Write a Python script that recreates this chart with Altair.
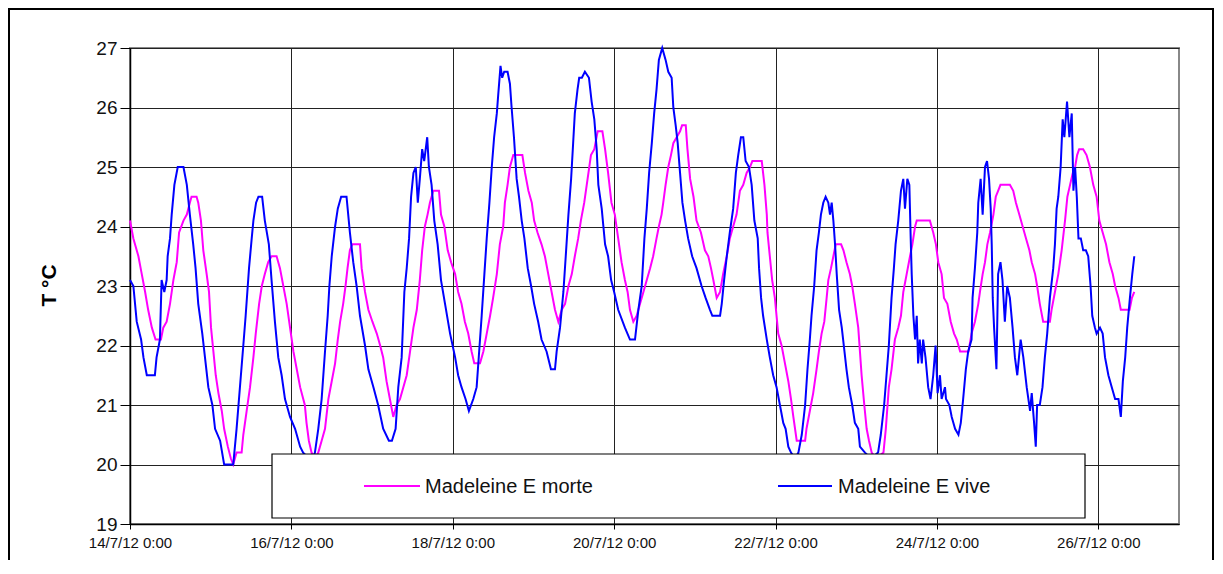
import altair as alt
import pandas as pd

# Series names
series_names = ["Madeleine E morte", "Madeleine E vive"]
series_colors = ["#FF00FF", "#0000FF"]

# Time in hours after 14/7/12 0:00, temperature in °C
vive_h = [0, 1.0, 2.0, 3.3, 4.0, 5.0, 7.4, 7.9, 8.9, 9.4, 10.2, 10.9, 11.2, 11.9, 12.4, 13.2, 14.2, 15.9,
          16.9, 17.8, 18.8, 19.5, 20.3, 21.5, 22.3, 23.3, 24.5, 25.3, 26.8, 28.0, 30.7, 31.7, 32.7, 33.7,
          34.4, 35.4, 36.2, 36.7, 37.5, 38.2, 39.3, 40.1, 41.3, 42.1, 43.1, 44.1, 45.1, 46.1, 47.6, 49.1,
          50.6, 51.5, 53.2, 54.4, 55.0, 56.0, 57.0, 58.0, 58.8, 59.3, 60.0, 61.0, 61.8, 62.8, 64.4, 65.4,
          66.4, 67.4, 68.4, 69.9, 70.9, 72.4, 73.8, 75.3, 77.0, 77.9, 79.0, 79.8, 80.8, 81.6, 82.3, 83.0,
          83.6, 84.3, 85.0, 85.6, 86.2, 86.9, 87.5, 88.4, 88.9, 89.7, 90.5, 91.5, 92.5, 93.7, 95.2, 96.7,
          97.6, 98.6, 99.8, 100.8, 102.1, 103.1, 103.6, 104.6, 105.4, 106.1, 106.9, 107.6, 108.3, 109.1,
          109.5, 110.2, 110.7, 111.3, 112.3, 113.0, 113.5, 114.2, 115.0, 115.7, 116.5, 117.3, 118.3, 119.3,
          120.2, 121.4, 122.4, 123.9, 125.2, 126.4, 126.9, 127.9, 128.9, 129.6, 130.4, 131.2, 131.8, 132.3,
          133.1, 133.6, 134.4, 135.3, 136.5, 137.3, 138.1, 138.8, 139.3, 140.3, 140.8, 141.3, 142.2, 143.1,
          144.0, 145.2, 147.2, 148.7, 150.2, 151.2, 152.2, 153.0, 153.7, 154.4, 155.2, 155.9, 156.6, 157.3,
          158.3, 159.3, 160.1, 161.1, 161.6, 162.3, 162.9, 163.6, 164.3, 165.1, 166.0, 167.2, 168.5, 170.0,
          171.2, 172.5, 173.2, 175.5, 176.0, 176.7, 177.5, 178.4, 179.4, 180.2, 180.9, 181.7, 182.4, 183.1,
          184.1, 184.9, 185.7, 186.7, 187.1, 187.7, 188.3, 189.4, 190.3, 191.3, 192.3, 193.3, 194.3, 195.0,
          195.8, 196.6, 197.8, 198.8, 199.8, 200.8, 201.5, 202.2, 202.7, 203.5, 204.2, 204.9, 205.5, 206.2,
          206.9, 207.7, 208.2, 208.7, 209.2, 209.7, 210.2, 210.9, 211.7, 212.5, 213.1, 213.8, 214.8, 215.6,
          216.6, 217.1, 218.6, 220.4, 222.5, 223.3, 224.3, 225.0, 225.7, 226.5, 227.2, 227.7, 228.5, 229.3,
          230.0, 230.5, 231.2, 231.8, 232.2, 232.5, 233.0, 233.5, 234.0, 234.4, 234.9, 235.5, 235.9, 236.6,
          237.4, 238.1, 238.9, 239.6, 240.2, 240.9, 241.4, 242.4, 242.7, 243.7, 244.4, 245.4, 246.4, 247.1,
          247.8, 248.6, 249.3, 250.3, 250.6, 251.3, 252.0, 252.3, 253.0, 253.6, 254.3, 254.9, 255.5, 256.0,
          256.3, 256.6, 257.0, 257.7, 258.2, 258.9, 259.5, 260.2, 260.9, 261.7, 262.5, 263.2, 263.9, 264.4,
          264.9, 265.7, 266.7, 267.7, 268.2, 268.9, 269.4, 269.8, 270.6, 271.4, 272.1, 272.8, 273.6, 274.6,
          275.1, 275.6, 276.1, 276.8, 277.4, 277.9, 278.7, 279.4, 280.1, 280.6, 281.1, 281.6, 282.1, 282.8,
          283.5, 284.3, 285.0, 285.7, 286.2, 287.0, 287.5, 288.5, 289.3, 290.0, 291.0, 292.0, 293.0, 294.0,
          294.7, 295.3, 296.0, 296.6, 297.4, 298.1, 298.7]
vive_t = [23.1, 23.0, 22.4, 22.1, 21.8, 21.5, 21.5, 21.8, 22.1, 23.1, 22.9, 23.1, 23.5, 23.8, 24.2, 24.7, 25.0, 25.0,
          24.7, 24.2, 23.7, 23.3, 22.7, 22.2, 21.8, 21.3, 21.0, 20.6, 20.4, 20.0, 20.0, 20.6, 21.3, 22.0,
          22.5, 23.3, 23.8, 24.1, 24.4, 24.5, 24.5, 24.1, 23.7, 23.1, 22.4, 21.8, 21.5, 21.1, 20.8, 20.6,
          20.3, 20.2, 20.1, 20.1, 20.2, 20.6, 21.1, 21.9, 22.5, 23.0, 23.5, 24.0, 24.3, 24.5, 24.5, 23.9,
          23.4, 23.0, 22.5, 22.0, 21.6, 21.3, 21.0, 20.6, 20.4, 20.4, 20.6, 21.3, 21.8, 22.9, 23.3, 23.8,
          24.5, 24.9, 25.0, 24.4, 24.8, 25.3, 25.1, 25.5, 25.0, 24.7, 24.1, 23.7, 23.1, 22.7, 22.2, 21.8,
          21.5, 21.3, 21.1, 20.9, 21.1, 21.3, 21.7, 22.5, 23.2, 23.8, 24.4, 25.0, 25.5, 25.9,
          26.2, 26.7, 26.5, 26.6, 26.6, 26.4, 26.0, 25.5, 24.8, 24.5, 24.1, 23.8, 23.3, 23.0,
          22.7, 22.4, 22.1, 21.9, 21.6, 21.6, 21.9, 22.3, 22.9, 23.5, 24.2, 24.8, 25.4, 25.9,
          26.3, 26.5, 26.5, 26.6, 26.5, 26.1, 25.8, 25.3, 24.7, 24.3, 24.0, 23.7, 23.5, 23.1,
          22.9, 22.6, 22.3, 22.1, 22.1, 22.6, 23.0, 23.8, 24.3, 24.9, 25.4, 25.9, 26.3, 26.8,
          27.0, 26.8, 26.6, 26.5, 26.0, 25.7, 25.4, 24.9, 24.4, 24.1, 23.8, 23.5, 23.3, 23.0,
          22.8, 22.6, 22.5, 22.5, 22.7, 23.1, 23.5, 23.9, 24.3, 24.9, 25.2, 25.5, 25.5, 25.1,
          25.0, 24.7, 24.1, 23.8, 23.3, 22.8, 22.5, 22.1, 21.8, 21.5, 21.3, 21.0, 20.7, 20.6,
          20.3, 20.2, 20.1, 20.2, 20.5, 21.0, 21.6, 22.1, 22.5, 23.0, 23.6, 23.9, 24.2, 24.4,
          24.5, 24.4, 24.2, 24.4, 24.1, 23.7, 23.2, 22.6, 22.3, 21.9, 21.6, 21.3, 21.0, 20.7,
          20.6, 20.3, 20.2, 20.1, 20.2, 20.5, 21.0, 21.5, 22.0, 22.8, 23.3, 23.7, 24.1, 24.6,
          24.8, 24.3, 24.8, 24.7, 23.8, 23.2, 22.5, 22.1, 22.5, 21.7, 22.1, 21.7, 22.1, 21.8,
          21.3, 21.1, 21.5, 22.0, 21.2, 21.5, 21.1, 21.3, 21.1, 21.0, 20.8, 20.6, 20.5, 20.7,
          21.1, 21.6, 21.9, 22.1, 22.8, 23.3, 23.9, 24.4, 24.8, 24.2, 25.0, 25.1, 24.8, 24.3,
          23.7, 22.8, 22.3, 21.6, 23.2, 23.4, 23.1, 22.4, 23.0, 22.8, 22.3, 21.8, 21.5, 21.8,
          22.1, 21.8, 21.3, 20.9, 21.2, 20.7, 20.3, 21.0, 21.0, 21.3, 21.8, 22.2, 22.8, 23.3,
          23.7, 24.3, 24.5, 25.0, 25.8, 25.5, 26.1, 25.5, 25.9, 24.6, 25.0, 24.5, 23.8, 23.8,
          23.6, 23.6, 23.5, 23.0, 22.5, 22.3, 22.2, 22.3, 22.2, 21.8, 21.5, 21.3, 21.1, 21.1,
          20.8, 21.4, 21.8, 22.3, 22.8, 23.2, 23.5]

morte_h = [0, 1.0, 2.5, 3.5, 4.5, 5.4, 6.5, 7.6, 9.2, 9.9, 10.9, 11.9, 12.9, 13.9, 14.6, 15.9, 16.9, 17.8,
           18.3, 19.8, 20.3, 21.1, 21.8, 22.8, 23.5, 24.1, 24.8, 25.5, 26.3, 27.3, 28.0, 29.1, 30.0, 30.7,
           31.7, 33.2, 33.7, 34.7, 35.7, 36.7, 37.4, 38.4, 39.2, 40.1, 41.1, 42.1, 43.6, 44.6, 45.6, 46.6,
           47.6, 48.6, 49.6, 50.6, 52.0, 52.5, 53.2, 54.0, 55.0, 56.0, 57.0, 58.0, 59.0, 60.0, 61.0, 61.8,
           62.5, 63.4, 64.1, 64.7, 65.4, 66.1, 68.4, 68.9, 69.9, 70.9, 72.1, 73.4, 74.4, 75.3, 76.3, 77.3,
           78.3, 79.3, 80.3, 81.3, 82.3, 83.3, 84.3, 85.3, 86.2, 86.9, 87.7, 88.5, 89.2, 90.2, 91.9, 92.5,
           93.5, 94.5, 95.5, 96.7, 97.6, 98.6, 99.6, 100.6, 101.6, 102.4, 104.1, 105.1, 106.1, 107.1, 108.0,
           109.1, 110.0, 111.0, 111.5, 112.3, 113.0, 114.0, 116.7, 117.5, 118.5, 119.5, 120.2, 121.2, 122.4,
           123.4, 124.4, 125.4, 126.4, 127.4, 128.4, 129.4, 130.4, 131.4, 132.3, 133.3, 134.1, 135.1, 136.1,
           137.1, 138.1, 139.1, 140.5, 141.3, 142.2, 143.2, 144.2, 145.2, 146.2, 147.2, 148.0, 148.7, 149.7,
           150.7, 151.7, 152.7, 153.7, 154.7, 155.6, 156.6, 157.3, 158.1, 158.6, 159.3, 160.1, 160.9, 161.6,
           162.6, 163.6, 164.2, 165.3, 165.8, 166.6, 167.6, 168.5, 169.8, 171.0, 172.0, 172.8, 173.5, 174.5,
           175.5, 176.4, 177.5, 178.4, 179.4, 180.4, 181.4, 182.4, 183.4, 184.4, 185.1, 187.9, 188.7, 189.4,
           189.6, 190.3, 191.0, 191.8, 192.8, 193.8, 194.8, 195.8, 196.6, 197.3, 198.3, 200.8, 201.2, 202.2,
           203.2, 204.2, 204.9, 205.7, 206.5, 207.2, 207.7, 208.5, 209.2, 209.9, 211.5, 212.2, 213.1, 214.1,
           214.8, 215.6, 216.6, 217.6, 218.4, 219.1, 219.8, 220.6, 221.9, 224.1, 224.8, 225.7, 226.5, 227.5,
           228.5, 229.3, 230.0, 231.0, 232.0, 232.7, 233.5, 234.0, 237.9, 238.9, 239.7, 240.4, 241.4, 242.1,
           243.1, 244.1, 245.1, 245.9, 246.9, 249.4, 250.3, 251.3, 252.3, 252.8, 253.6, 254.3, 255.0, 255.8,
           256.8, 257.5, 258.2, 258.9, 261.7, 262.7, 263.5, 264.5, 265.5, 266.5, 267.5, 268.2, 269.2, 269.8,
           270.6, 271.6, 273.6, 274.1, 275.1, 276.1, 277.1, 278.1, 278.8, 279.6, 280.4, 281.1, 281.7, 282.3,
           283.5, 284.5, 285.5, 286.5, 287.5, 288.3, 289.3, 290.3, 291.3, 292.3, 293.0, 294.0, 294.7, 297.3,
           298.0, 298.7]
morte_t = [24.1, 23.8, 23.5, 23.2, 22.9, 22.6, 22.3, 22.1, 22.1, 22.3, 22.4, 22.7, 23.1, 23.4, 23.9, 24.1, 24.2, 24.4,
           24.5, 24.5, 24.4, 24.1, 23.6, 23.2, 22.9, 22.3, 21.9, 21.5, 21.2, 20.9, 20.6, 20.3, 20.1, 20.0,
           20.2, 20.2, 20.5, 20.9, 21.3, 21.8, 22.2, 22.7, 23.0, 23.2, 23.4, 23.5, 23.5, 23.3, 23.0, 22.7,
           22.3, 21.9, 21.6, 21.3, 21.0, 20.7, 20.4, 20.2, 20.1, 20.2, 20.4, 20.6, 21.1, 21.4, 21.7, 22.1,
           22.4, 22.7, 23.0, 23.3, 23.6, 23.7, 23.7, 23.3, 22.9, 22.6, 22.4, 22.2, 22.0, 21.8, 21.4, 21.1,
           20.8, 21.0, 21.1, 21.3, 21.5, 21.9, 22.3, 22.6, 23.1, 23.6, 24.0, 24.2, 24.4, 24.6, 24.6, 24.2,
           24.0, 23.6, 23.4, 23.2, 22.9, 22.7, 22.4, 22.2, 21.9, 21.7, 21.7, 21.9, 22.2, 22.5, 22.8,
           23.2, 23.7, 24.0, 24.4, 24.7, 25.0, 25.2, 25.2, 24.9, 24.6, 24.4, 24.1, 23.9, 23.7,
           23.5, 23.2, 22.9, 22.6, 22.4, 22.6, 22.7, 23.0, 23.2, 23.5, 23.8, 24.1, 24.4, 24.8,
           25.2, 25.3, 25.6, 25.6, 25.3, 24.9, 24.4, 24.2, 23.8, 23.4, 23.1, 22.9, 22.6, 22.4,
           22.5, 22.7, 22.9, 23.1, 23.3, 23.5, 23.8, 24.0, 24.2, 24.4, 24.7, 25.0, 25.2, 25.4,
           25.5, 25.6, 25.7, 25.7, 25.3, 24.8, 24.5, 24.1, 23.9, 23.6, 23.5, 23.3, 23.1, 22.8,
           22.9, 23.2, 23.5, 23.8, 24.0, 24.2, 24.6, 24.7, 24.9, 25.0, 25.1, 25.1, 24.7, 24.2,
           23.9, 23.5, 23.1, 22.8, 22.2, 22.0, 21.7, 21.4, 21.1, 20.8, 20.4, 20.4, 20.6, 20.9,
           21.2, 21.6, 21.9, 22.2, 22.4, 22.8, 23.1, 23.3, 23.5, 23.7, 23.7, 23.6, 23.4, 23.2,
           23.0, 22.7, 22.3, 21.5, 21.0, 20.6, 20.4, 20.2, 20.1, 20.2, 20.6, 21.3, 21.6, 22.1,
           22.3, 22.5, 22.9, 23.2, 23.5, 23.7, 24.0, 24.1, 24.1, 23.9, 23.7, 23.4, 23.2, 22.8,
           22.7, 22.4, 22.2, 22.1, 21.9, 21.9, 22.2, 22.4, 22.7, 22.9, 23.2, 23.4, 23.7, 23.9,
           24.2, 24.5, 24.6, 24.7, 24.7, 24.6, 24.4, 24.2, 24.0, 23.8, 23.6, 23.4, 23.2, 23.0,
           22.7, 22.4, 22.4, 22.6, 22.9, 23.2, 23.6, 24.1, 24.5, 24.7, 24.9, 25.0, 25.2, 25.3,
           25.3, 25.2, 25.0, 24.7, 24.5, 24.1, 23.9, 23.7, 23.4, 23.2, 23.0, 22.8, 22.6, 22.6,
           22.8, 22.9]

# Axis tick positions (hours) and labels
x_tick_hours = [0, 48, 96, 144, 192, 240, 288]
x_tick_labels = ["14/7/12 0:00", "16/7/12 0:00", "18/7/12 0:00", "20/7/12 0:00",
                 "22/7/12 0:00", "24/7/12 0:00", "26/7/12 0:00"]
y_ticks = [19, 20, 21, 22, 23, 24, 25, 26, 27]

df = pd.concat([
    pd.DataFrame({"h": morte_h, "T": morte_t, "serie": series_names[0]}),
    pd.DataFrame({"h": vive_h, "T": vive_t, "serie": series_names[1]}),
], ignore_index=True)

FONT = "Liberation Sans"
W, H = 1049, 476

label_map = "{" + ",".join(f"'{h}':'{l}'" for h, l in zip(x_tick_hours, x_tick_labels)) + "}"

x_enc = alt.X("h:Q",
              scale=alt.Scale(domain=[0, 312], nice=False, zero=False),
              axis=alt.Axis(values=x_tick_hours, labelExpr=f"{label_map}[toString(datum.value)]",
                            title=None, grid=True, gridColor="#222", gridWidth=1,
                            tickSize=5, tickColor="#000", domainColor="#000", domainWidth=1.5,
                            labelFont=FONT, labelFontSize=15, labelColor="#111",
                            labelPadding=6, labelAngle=0, labelOverlap=False, labelFlush=False,
                            labelBound=False))
y_enc = alt.Y("T:Q",
              scale=alt.Scale(domain=[19, 27], nice=False, zero=False),
              axis=alt.Axis(values=y_ticks, title="T °C", grid=True, gridColor="#222", gridWidth=1,
                            tickSize=10, tickColor="#000", domainColor="#000", domainWidth=1.5,
                            labelFont=FONT, labelFontSize=19, labelColor="#111", labelPadding=3,
                            titleFont=FONT, titleFontSize=21, titleFontWeight="bold", titleColor="#000",
                            titleX=-81, titleY=237, titleAlign="center", titleBaseline="middle",
                            titleAngle=270))

lines = alt.Chart(df).mark_line(strokeWidth=2, interpolate="linear").encode(
    x=x_enc, y=y_enc,
    color=alt.Color("serie:N", scale=alt.Scale(domain=series_names, range=series_colors), legend=None),
)

pink_line = lines.transform_filter(alt.datum.serie == series_names[0])
blue_line = lines.transform_filter(alt.datum.serie == series_names[1])

one = pd.DataFrame({"a": [0]})

frame = alt.Chart(one).mark_rect(fillOpacity=0, stroke="#000", strokeWidth=2).encode(
    x=alt.value(-121), x2=alt.value(1083), y=alt.value(-39), y2=alt.value(620))

legend_box = alt.Chart(one).mark_rect(fill="white", stroke="#000", strokeWidth=1.2).encode(
    x=alt.value(142), x2=alt.value(955), y=alt.value(406), y2=alt.value(470))

leg_df = pd.DataFrame({"serie": series_names})
leg_pink = alt.Chart(leg_df.iloc[[0]]).mark_rule(color=series_colors[0], strokeWidth=2).encode(
    x=alt.value(234), x2=alt.value(290), y=alt.value(438))
leg_blue = alt.Chart(leg_df.iloc[[1]]).mark_rule(color=series_colors[1], strokeWidth=2).encode(
    x=alt.value(648), x2=alt.value(702), y=alt.value(438))
leg_txt1 = alt.Chart(leg_df.iloc[[0]]).mark_text(font=FONT, fontSize=20, align="left", baseline="middle",
                                                 color="#111").encode(
    x=alt.value(295), y=alt.value(439), text="serie:N")
leg_txt2 = alt.Chart(leg_df.iloc[[1]]).mark_text(font=FONT, fontSize=20, align="left", baseline="middle",
                                                 color="#111").encode(
    x=alt.value(708), y=alt.value(439), text="serie:N")

chart = alt.layer(frame, pink_line, blue_line, legend_box, leg_pink, leg_blue, leg_txt1, leg_txt2).properties(
    width=W, height=H,
    autosize=alt.AutoSizeParams(type="none"),
    padding={"left": 122, "top": 40, "right": 36, "bottom": 36},
    background="white",
).configure_view(stroke="#888", strokeWidth=2)

chart.save("out.html", embed_options={"renderer": "svg", "actions": False})
